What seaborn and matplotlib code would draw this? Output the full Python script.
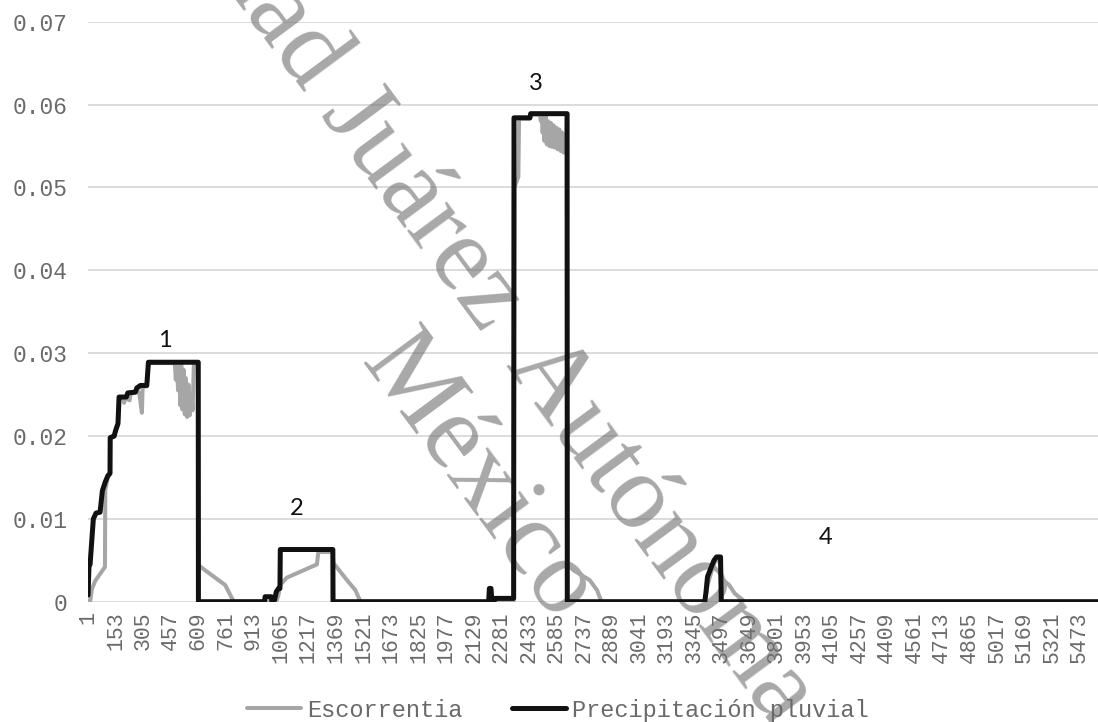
import numpy as np
import pandas as pd
import matplotlib
matplotlib.use("Agg")
import matplotlib.pyplot as plt
import seaborn as sns

# ---------------- data ----------------
n_categories = 5575
tick_start, tick_step = 1, 152

# Precipitación pluvial : vertices (category index, value)
precip_idx = [1, 6, 12, 30, 45, 67, 80, 95, 110, 122, 123, 145, 152, 166, 172, 212, 220, 262, 270,
              290, 325, 334, 609, 610, 975, 978, 1012, 1016, 1030, 1040, 1052, 1060, 1062, 1352, 1353,
              2212, 2216, 2225, 2230, 2242, 2246, 2350, 2352, 2440, 2444, 2645, 2646,
              3405, 3412, 3420, 3434, 3456, 3470, 3492, 3496, 5575]
precip_val = [0.0008, 0.0043, 0.0045, 0.0100, 0.0107, 0.0108, 0.0134, 0.0144, 0.0152, 0.0155, 0.0198,
              0.0200, 0.0206, 0.0215, 0.0247, 0.0247, 0.0252, 0.0253, 0.0258, 0.0261, 0.0261, 0.0289,
              0.0289, 0.0, 0.0, 0.0006, 0.0006, 0.0, 0.0002, 0.0012, 0.0016, 0.0016, 0.0063, 0.0063, 0.0,
              0.0, 0.0016, 0.0016, 0.0, 0.0, 0.0004, 0.0004, 0.0584, 0.0584, 0.0589, 0.0589, 0.0,
              0.0, 0.0012, 0.0030, 0.0038, 0.0050, 0.0054, 0.0054, 0.0, 0.0]

# Escorrentia : vertices (category index, value)
runoff_idx = [1, 12, 22, 40, 94, 96, 110, 122, 123, 145, 152, 166, 172, 195, 200, 205, 230, 236, 262,
              270, 285, 298, 302, 325, 334, 480, 485, 490, 498, 503, 510, 515, 522, 528, 535, 540, 548,
              555, 562, 570, 578, 585, 608, 610, 758, 805,
              1040, 1052, 1060, 1098, 1264, 1272, 1352, 1354, 1430, 1476, 1505,
              2350, 2354, 2376, 2380, 2440, 2444, 2495, 2500, 2505, 2510, 2515, 2520, 2527, 2533, 2540,
              2547, 2555, 2562, 2570, 2578, 2586, 2594, 2602, 2610, 2618, 2626, 2634, 2640, 2644, 2646,
              2680, 2770, 2810, 2835,
              3405, 3420, 3440, 3460, 3490, 3497, 3540, 3570, 3610, 3625, 5575]
runoff_val = [0.0, 0.0, 0.0015, 0.0025, 0.0042, 0.0135, 0.0150, 0.0154, 0.0197, 0.0199, 0.0205, 0.0214,
              0.0246, 0.0246, 0.0240, 0.0246, 0.0243, 0.0251, 0.0252, 0.0257, 0.0250, 0.0228, 0.0259,
              0.0260, 0.0288, 0.0288, 0.0268, 0.0288, 0.0255, 0.0288, 0.0237, 0.0288, 0.0232, 0.0280,
              0.0226, 0.0270, 0.0223, 0.0262, 0.0225, 0.0250, 0.0231, 0.0288, 0.0288, 0.0044, 0.0020, 0.0,
              0.0, 0.0008, 0.0020, 0.0029, 0.0045, 0.0060, 0.0060, 0.0047, 0.0026, 0.0014, 0.0,
              0.0, 0.0500, 0.0513, 0.0583, 0.0583, 0.0588, 0.0588, 0.0580, 0.0588, 0.0566, 0.0588, 0.0556,
              0.0586, 0.0552, 0.0580, 0.0550, 0.0578, 0.0549, 0.0575, 0.0548, 0.0572, 0.0546, 0.0570,
              0.0544, 0.0566, 0.0542, 0.0562, 0.0542, 0.0588, 0.0045,
              0.0038, 0.0026, 0.0014, 0.0,
              0.0, 0.0020, 0.0035, 0.0048, 0.0052, 0.0028, 0.0020, 0.0010, 0.0003, 0.0, 0.0]

series_names = ["Escorrentia", "Precipitación pluvial"]
series_colors = ["#a6a6a6", "#111111"]

y_ticks = [0, 0.01, 0.02, 0.03, 0.04, 0.05, 0.06, 0.07]
y_tick_labels = ["0", "0.01", "0.02", "0.03", "0.04", "0.05", "0.06", "0.07"]

event_labels = ["1", "2", "3", "4"]
event_x = [426, 1150, 2470, 4073]
event_y = [0.0315, 0.0113, 0.0626, 0.0077]

watermark_parts = ["Universidad Juárez", "Autónoma de Tabasco", "México"]

# ---------------- figure ----------------
sns.set_style("white")
plt.rcParams["font.family"] = ["Liberation Mono", "DejaVu Sans"]

W, H = 1098, 722
fig = plt.figure(figsize=(W / 100, H / 100), dpi=100)
ax = fig.add_axes([88 / W, 1 - 601.7 / H, 1 - 88 / W, (601.7 - 21.7) / H])

df_runoff = pd.DataFrame({"x": runoff_idx, "y": runoff_val})
df_precip = pd.DataFrame({"x": precip_idx, "y": precip_val})

sns.lineplot(data=df_runoff, x="x", y="y", estimator=None, sort=False, ax=ax,
             color=series_colors[0], linewidth=2.9, label=series_names[0], zorder=3,
             solid_joinstyle="round", solid_capstyle="round")
sns.lineplot(data=df_precip, x="x", y="y", estimator=None, sort=False, ax=ax,
             color=series_colors[1], linewidth=3.6, label=series_names[1], zorder=4,
             solid_joinstyle="round", solid_capstyle="round")

ax.set_xlim(0.5, n_categories + 0.5)
ax.set_ylim(0, 0.07)

xt = list(range(tick_start, n_categories - 90, tick_step))
ax.set_xticks(xt)
ax.set_xticklabels([str(v) for v in xt], rotation=90, fontsize=15.5, color="#6a6a6a",
                   family="Liberation Mono")
ax.set_yticks(y_ticks)
ax.set_yticklabels(y_tick_labels, fontsize=16.5, color="#6a6a6a", family="Liberation Mono")
ax.tick_params(axis="both", length=0)
ax.tick_params(axis="x", pad=7)
ax.tick_params(axis="y", pad=15)
ax.set_xlabel("")
ax.set_ylabel("")

ax.set_axisbelow(True)
ax.grid(axis="y", color="#d9d9d9", linewidth=1.3)
ax.grid(axis="x", visible=False)
for s in ax.spines.values():
    s.set_visible(False)

for lab, ex, ey in zip(event_labels, event_x, event_y):
    ax.text(ex, ey, lab, ha="center", va="center", fontsize=17, family="Lato",
            color="#111111", clip_on=False, zorder=5)

# diagonal watermark (three pieces, anchored at their baselines)
wm_kw = dict(transform=fig.transFigure, rotation=-53.5, rotation_mode="anchor",
             va="baseline", fontsize=77, family="Liberation Serif", color="#6e6e6e",
             alpha=0.6, zorder=2, clip_on=False)
ax.text(482 / W, 1 - 334 / H, watermark_parts[0], ha="right", **wm_kw)
ax.text(505 / W, 1 - 365 / H, watermark_parts[1], ha="left", **wm_kw)
ax.text(360 / W, 1 - 362 / H, watermark_parts[2], ha="left", **wm_kw)

leg = ax.legend(loc="center", bbox_to_anchor=(0.508, 0.0166), bbox_transform=fig.transFigure,
                ncol=2, frameon=False, handlelength=2.3, handletextpad=0.25,
                columnspacing=2.1, prop={"family": "Liberation Mono", "size": 17})
for t in leg.get_texts():
    t.set_color("#6a6a6a")

fig.savefig("out.png", dpi=100)
